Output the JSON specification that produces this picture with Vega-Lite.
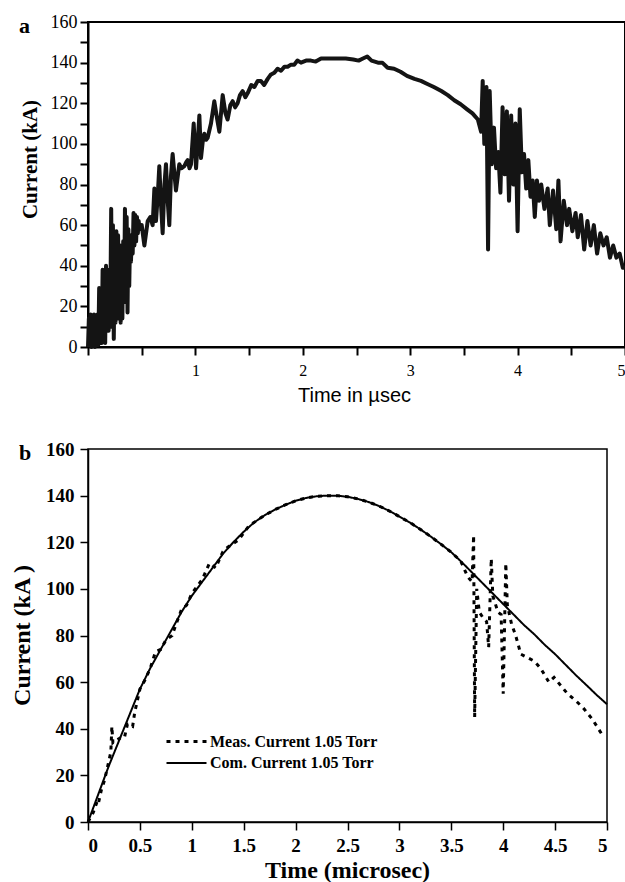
{
  "$schema": "https://vega.github.io/schema/vega-lite/v6.json",
  "padding": {"left": 9, "top": 12, "right": 0, "bottom": 0},
  "bounds": "flush",
  "spacing": 102,
  "config": {
    "font": "Liberation Serif",
    "view": {"stroke": "#000"},
    "axis": {"grid": false, "domainColor": "#000", "tickColor": "#000", "labelColor": "#000", "titleColor": "#000", "labelFont": "Liberation Serif", "titleFont": "Liberation Serif"},
    "title": {"font": "Liberation Serif", "fontWeight": "bold", "color": "#000"}
  },
  "datasets": {
    "measA": [
      {"t": 0.000, "i": 0}, {"t": 0.008, "i": 14}, {"t": 0.016, "i": 1}, {"t": 0.024, "i": 16}, {"t": 0.032, "i": 0},
      {"t": 0.040, "i": 15}, {"t": 0.048, "i": 2}, {"t": 0.056, "i": 16}, {"t": 0.064, "i": 0}, {"t": 0.072, "i": 15},
      {"t": 0.080, "i": 2}, {"t": 0.088, "i": 16}, {"t": 0.096, "i": 1}, {"t": 0.104, "i": 29}, {"t": 0.112, "i": 3},
      {"t": 0.120, "i": 28}, {"t": 0.128, "i": 2}, {"t": 0.136, "i": 38}, {"t": 0.144, "i": 4}, {"t": 0.152, "i": 37},
      {"t": 0.160, "i": 2}, {"t": 0.168, "i": 40}, {"t": 0.176, "i": 10}, {"t": 0.184, "i": 38}, {"t": 0.192, "i": 8},
      {"t": 0.200, "i": 35}, {"t": 0.208, "i": 20}, {"t": 0.216, "i": 68}, {"t": 0.224, "i": 10}, {"t": 0.232, "i": 60},
      {"t": 0.240, "i": 4}, {"t": 0.248, "i": 40}, {"t": 0.256, "i": 12}, {"t": 0.264, "i": 57}, {"t": 0.272, "i": 14},
      {"t": 0.280, "i": 55}, {"t": 0.288, "i": 20}, {"t": 0.296, "i": 50}, {"t": 0.304, "i": 12}, {"t": 0.312, "i": 50},
      {"t": 0.320, "i": 14}, {"t": 0.328, "i": 52}, {"t": 0.336, "i": 22}, {"t": 0.344, "i": 68}, {"t": 0.352, "i": 30},
      {"t": 0.360, "i": 64}, {"t": 0.368, "i": 17}, {"t": 0.376, "i": 58}, {"t": 0.384, "i": 30}, {"t": 0.392, "i": 55},
      {"t": 0.400, "i": 42}, {"t": 0.408, "i": 55}, {"t": 0.416, "i": 46}, {"t": 0.424, "i": 66}, {"t": 0.432, "i": 50},
      {"t": 0.440, "i": 65}, {"t": 0.448, "i": 52}, {"t": 0.456, "i": 64}, {"t": 0.464, "i": 56}, {"t": 0.472, "i": 62},
      {"t": 0.480, "i": 58}, {"t": 0.500, "i": 60}, {"t": 0.525, "i": 50}, {"t": 0.556, "i": 62}, {"t": 0.580, "i": 64},
      {"t": 0.602, "i": 60}, {"t": 0.618, "i": 78}, {"t": 0.633, "i": 62}, {"t": 0.650, "i": 75}, {"t": 0.664, "i": 89},
      {"t": 0.680, "i": 70}, {"t": 0.695, "i": 56}, {"t": 0.712, "i": 80}, {"t": 0.726, "i": 90}, {"t": 0.742, "i": 72},
      {"t": 0.757, "i": 60}, {"t": 0.772, "i": 84}, {"t": 0.788, "i": 95}, {"t": 0.805, "i": 85}, {"t": 0.819, "i": 77},
      {"t": 0.850, "i": 90}, {"t": 0.870, "i": 88}, {"t": 0.897, "i": 89}, {"t": 0.915, "i": 91}, {"t": 0.928, "i": 92},
      {"t": 0.945, "i": 88}, {"t": 0.959, "i": 90}, {"t": 0.984, "i": 110}, {"t": 1.006, "i": 88}, {"t": 1.037, "i": 114},
      {"t": 1.052, "i": 93}, {"t": 1.068, "i": 101}, {"t": 1.083, "i": 105}, {"t": 1.100, "i": 102}, {"t": 1.114, "i": 103},
      {"t": 1.145, "i": 110}, {"t": 1.176, "i": 121}, {"t": 1.200, "i": 113}, {"t": 1.223, "i": 106}, {"t": 1.254, "i": 124},
      {"t": 1.280, "i": 115}, {"t": 1.300, "i": 112}, {"t": 1.325, "i": 119}, {"t": 1.347, "i": 121}, {"t": 1.370, "i": 118},
      {"t": 1.393, "i": 120}, {"t": 1.415, "i": 124}, {"t": 1.440, "i": 126}, {"t": 1.465, "i": 123}, {"t": 1.487, "i": 125},
      {"t": 1.520, "i": 129}, {"t": 1.549, "i": 128}, {"t": 1.580, "i": 131}, {"t": 1.610, "i": 131}, {"t": 1.640, "i": 129},
      {"t": 1.673, "i": 132}, {"t": 1.700, "i": 134}, {"t": 1.735, "i": 135}, {"t": 1.765, "i": 137}, {"t": 1.797, "i": 136},
      {"t": 1.830, "i": 138}, {"t": 1.859, "i": 138}, {"t": 1.890, "i": 139}, {"t": 1.920, "i": 139}, {"t": 1.950, "i": 141},
      {"t": 1.983, "i": 140}, {"t": 2.030, "i": 141}, {"t": 2.076, "i": 141}, {"t": 2.120, "i": 140.5}, {"t": 2.170, "i": 142},
      {"t": 2.290, "i": 142}, {"t": 2.400, "i": 142}, {"t": 2.470, "i": 141.5}, {"t": 2.520, "i": 141}, {"t": 2.560, "i": 142},
      {"t": 2.600, "i": 143}, {"t": 2.640, "i": 141}, {"t": 2.700, "i": 140}, {"t": 2.740, "i": 140}, {"t": 2.790, "i": 137.5},
      {"t": 2.850, "i": 137}, {"t": 2.910, "i": 135.5}, {"t": 2.970, "i": 133.5}, {"t": 3.040, "i": 132}, {"t": 3.100, "i": 131},
      {"t": 3.160, "i": 129.5}, {"t": 3.220, "i": 128}, {"t": 3.290, "i": 126}, {"t": 3.350, "i": 124}, {"t": 3.410, "i": 121.5},
      {"t": 3.470, "i": 119.5}, {"t": 3.530, "i": 117}, {"t": 3.580, "i": 115}, {"t": 3.630, "i": 112}, {"t": 3.660, "i": 106},
      {"t": 3.675, "i": 131}, {"t": 3.690, "i": 100}, {"t": 3.710, "i": 128}, {"t": 3.725, "i": 48}, {"t": 3.740, "i": 126},
      {"t": 3.760, "i": 90}, {"t": 3.780, "i": 108}, {"t": 3.800, "i": 88}, {"t": 3.820, "i": 96}, {"t": 3.840, "i": 76},
      {"t": 3.860, "i": 118}, {"t": 3.880, "i": 85}, {"t": 3.900, "i": 116}, {"t": 3.920, "i": 72}, {"t": 3.940, "i": 114},
      {"t": 3.960, "i": 80}, {"t": 3.980, "i": 110}, {"t": 4.000, "i": 57}, {"t": 4.020, "i": 117}, {"t": 4.040, "i": 86},
      {"t": 4.060, "i": 95}, {"t": 4.080, "i": 78}, {"t": 4.100, "i": 92}, {"t": 4.120, "i": 74}, {"t": 4.140, "i": 82},
      {"t": 4.160, "i": 64}, {"t": 4.180, "i": 82}, {"t": 4.200, "i": 72}, {"t": 4.220, "i": 80}, {"t": 4.250, "i": 68},
      {"t": 4.280, "i": 78}, {"t": 4.300, "i": 60}, {"t": 4.330, "i": 77}, {"t": 4.360, "i": 58}, {"t": 4.380, "i": 82},
      {"t": 4.400, "i": 52}, {"t": 4.430, "i": 72}, {"t": 4.460, "i": 60}, {"t": 4.480, "i": 68}, {"t": 4.510, "i": 57},
      {"t": 4.540, "i": 66}, {"t": 4.560, "i": 54}, {"t": 4.590, "i": 65}, {"t": 4.620, "i": 48}, {"t": 4.650, "i": 62},
      {"t": 4.680, "i": 50}, {"t": 4.710, "i": 60}, {"t": 4.740, "i": 46}, {"t": 4.770, "i": 56}, {"t": 4.800, "i": 50},
      {"t": 4.830, "i": 54}, {"t": 4.860, "i": 44}, {"t": 4.890, "i": 50}, {"t": 4.920, "i": 44}, {"t": 4.950, "i": 46},
      {"t": 4.980, "i": 39}, {"t": 5.000, "i": 39}
    ],
    "seriesB": [
      {"s": "Meas. Current 1.05 Torr", "t": 0.00, "i": 0}, {"s": "Meas. Current 1.05 Torr", "t": 0.05, "i": 4},
      {"s": "Meas. Current 1.05 Torr", "t": 0.09, "i": 9}, {"s": "Meas. Current 1.05 Torr", "t": 0.10, "i": 8},
      {"s": "Meas. Current 1.05 Torr", "t": 0.13, "i": 14}, {"s": "Meas. Current 1.05 Torr", "t": 0.16, "i": 18},
      {"s": "Meas. Current 1.05 Torr", "t": 0.19, "i": 24}, {"s": "Meas. Current 1.05 Torr", "t": 0.22, "i": 30},
      {"s": "Meas. Current 1.05 Torr", "t": 0.23, "i": 41}, {"s": "Meas. Current 1.05 Torr", "t": 0.24, "i": 34},
      {"s": "Meas. Current 1.05 Torr", "t": 0.27, "i": 35}, {"s": "Meas. Current 1.05 Torr", "t": 0.31, "i": 36},
      {"s": "Meas. Current 1.05 Torr", "t": 0.35, "i": 36}, {"s": "Meas. Current 1.05 Torr", "t": 0.38, "i": 42},
      {"s": "Meas. Current 1.05 Torr", "t": 0.43, "i": 41}, {"s": "Meas. Current 1.05 Torr", "t": 0.45, "i": 47},
      {"s": "Meas. Current 1.05 Torr", "t": 0.50, "i": 57}, {"s": "Meas. Current 1.05 Torr", "t": 0.55, "i": 61},
      {"s": "Meas. Current 1.05 Torr", "t": 0.60, "i": 66}, {"s": "Meas. Current 1.05 Torr", "t": 0.65, "i": 73},
      {"s": "Meas. Current 1.05 Torr", "t": 0.70, "i": 74}, {"s": "Meas. Current 1.05 Torr", "t": 0.75, "i": 78},
      {"s": "Meas. Current 1.05 Torr", "t": 0.81, "i": 80}, {"s": "Meas. Current 1.05 Torr", "t": 0.85, "i": 85},
      {"s": "Meas. Current 1.05 Torr", "t": 0.90, "i": 91}, {"s": "Meas. Current 1.05 Torr", "t": 0.95, "i": 93},
      {"s": "Meas. Current 1.05 Torr", "t": 1.00, "i": 98}, {"s": "Meas. Current 1.05 Torr", "t": 1.05, "i": 101},
      {"s": "Meas. Current 1.05 Torr", "t": 1.10, "i": 104}, {"s": "Meas. Current 1.05 Torr", "t": 1.17, "i": 111},
      {"s": "Meas. Current 1.05 Torr", "t": 1.23, "i": 109}, {"s": "Meas. Current 1.05 Torr", "t": 1.30, "i": 116},
      {"s": "Meas. Current 1.05 Torr", "t": 1.35, "i": 118}, {"s": "Meas. Current 1.05 Torr", "t": 1.45, "i": 121},
      {"s": "Meas. Current 1.05 Torr", "t": 1.55, "i": 127}, {"s": "Meas. Current 1.05 Torr", "t": 1.70, "i": 131.5},
      {"s": "Meas. Current 1.05 Torr", "t": 1.80, "i": 134}, {"s": "Meas. Current 1.05 Torr", "t": 1.90, "i": 136},
      {"s": "Meas. Current 1.05 Torr", "t": 2.00, "i": 137.8}, {"s": "Meas. Current 1.05 Torr", "t": 2.10, "i": 139},
      {"s": "Meas. Current 1.05 Torr", "t": 2.20, "i": 139.7}, {"s": "Meas. Current 1.05 Torr", "t": 2.30, "i": 140},
      {"s": "Meas. Current 1.05 Torr", "t": 2.40, "i": 140}, {"s": "Meas. Current 1.05 Torr", "t": 2.50, "i": 139.5},
      {"s": "Meas. Current 1.05 Torr", "t": 2.60, "i": 138.6}, {"s": "Meas. Current 1.05 Torr", "t": 2.70, "i": 137.3},
      {"s": "Meas. Current 1.05 Torr", "t": 2.80, "i": 135.6}, {"s": "Meas. Current 1.05 Torr", "t": 2.90, "i": 133.5},
      {"s": "Meas. Current 1.05 Torr", "t": 3.00, "i": 131}, {"s": "Meas. Current 1.05 Torr", "t": 3.10, "i": 128.5},
      {"s": "Meas. Current 1.05 Torr", "t": 3.20, "i": 125.6}, {"s": "Meas. Current 1.05 Torr", "t": 3.30, "i": 122.5},
      {"s": "Meas. Current 1.05 Torr", "t": 3.40, "i": 119.2}, {"s": "Meas. Current 1.05 Torr", "t": 3.50, "i": 115.7},
      {"s": "Meas. Current 1.05 Torr", "t": 3.59, "i": 112}, {"s": "Meas. Current 1.05 Torr", "t": 3.66, "i": 105},
      {"s": "Meas. Current 1.05 Torr", "t": 3.70, "i": 103}, {"s": "Meas. Current 1.05 Torr", "t": 3.715, "i": 123},
      {"s": "Meas. Current 1.05 Torr", "t": 3.725, "i": 45}, {"s": "Meas. Current 1.05 Torr", "t": 3.745, "i": 100},
      {"s": "Meas. Current 1.05 Torr", "t": 3.77, "i": 90}, {"s": "Meas. Current 1.05 Torr", "t": 3.80, "i": 88},
      {"s": "Meas. Current 1.05 Torr", "t": 3.84, "i": 86}, {"s": "Meas. Current 1.05 Torr", "t": 3.86, "i": 75},
      {"s": "Meas. Current 1.05 Torr", "t": 3.885, "i": 113}, {"s": "Meas. Current 1.05 Torr", "t": 3.90, "i": 97},
      {"s": "Meas. Current 1.05 Torr", "t": 3.95, "i": 90}, {"s": "Meas. Current 1.05 Torr", "t": 3.98, "i": 89},
      {"s": "Meas. Current 1.05 Torr", "t": 4.00, "i": 55}, {"s": "Meas. Current 1.05 Torr", "t": 4.025, "i": 111},
      {"s": "Meas. Current 1.05 Torr", "t": 4.04, "i": 93}, {"s": "Meas. Current 1.05 Torr", "t": 4.08, "i": 85},
      {"s": "Meas. Current 1.05 Torr", "t": 4.12, "i": 80}, {"s": "Meas. Current 1.05 Torr", "t": 4.17, "i": 72},
      {"s": "Meas. Current 1.05 Torr", "t": 4.30, "i": 69}, {"s": "Meas. Current 1.05 Torr", "t": 4.36, "i": 66},
      {"s": "Meas. Current 1.05 Torr", "t": 4.44, "i": 60}, {"s": "Meas. Current 1.05 Torr", "t": 4.49, "i": 62},
      {"s": "Meas. Current 1.05 Torr", "t": 4.62, "i": 55}, {"s": "Meas. Current 1.05 Torr", "t": 4.70, "i": 52},
      {"s": "Meas. Current 1.05 Torr", "t": 4.77, "i": 49}, {"s": "Meas. Current 1.05 Torr", "t": 4.86, "i": 44},
      {"s": "Meas. Current 1.05 Torr", "t": 4.96, "i": 37},
      {"s": "Com. Current 1.05 Torr", "t": 0.0, "i": 0}, {"s": "Com. Current 1.05 Torr", "t": 0.1, "i": 12},
      {"s": "Com. Current 1.05 Torr", "t": 0.2, "i": 24}, {"s": "Com. Current 1.05 Torr", "t": 0.3, "i": 35},
      {"s": "Com. Current 1.05 Torr", "t": 0.4, "i": 46}, {"s": "Com. Current 1.05 Torr", "t": 0.5, "i": 57},
      {"s": "Com. Current 1.05 Torr", "t": 0.6, "i": 66}, {"s": "Com. Current 1.05 Torr", "t": 0.7, "i": 74},
      {"s": "Com. Current 1.05 Torr", "t": 0.8, "i": 82}, {"s": "Com. Current 1.05 Torr", "t": 0.9, "i": 90},
      {"s": "Com. Current 1.05 Torr", "t": 1.0, "i": 97}, {"s": "Com. Current 1.05 Torr", "t": 1.1, "i": 103},
      {"s": "Com. Current 1.05 Torr", "t": 1.2, "i": 109}, {"s": "Com. Current 1.05 Torr", "t": 1.3, "i": 115},
      {"s": "Com. Current 1.05 Torr", "t": 1.4, "i": 120}, {"s": "Com. Current 1.05 Torr", "t": 1.5, "i": 124.5},
      {"s": "Com. Current 1.05 Torr", "t": 1.6, "i": 128.5}, {"s": "Com. Current 1.05 Torr", "t": 1.7, "i": 131.5},
      {"s": "Com. Current 1.05 Torr", "t": 1.8, "i": 134}, {"s": "Com. Current 1.05 Torr", "t": 1.9, "i": 136},
      {"s": "Com. Current 1.05 Torr", "t": 2.0, "i": 137.8}, {"s": "Com. Current 1.05 Torr", "t": 2.1, "i": 139},
      {"s": "Com. Current 1.05 Torr", "t": 2.2, "i": 139.7}, {"s": "Com. Current 1.05 Torr", "t": 2.3, "i": 140},
      {"s": "Com. Current 1.05 Torr", "t": 2.4, "i": 140}, {"s": "Com. Current 1.05 Torr", "t": 2.5, "i": 139.5},
      {"s": "Com. Current 1.05 Torr", "t": 2.6, "i": 138.6}, {"s": "Com. Current 1.05 Torr", "t": 2.7, "i": 137.3},
      {"s": "Com. Current 1.05 Torr", "t": 2.8, "i": 135.6}, {"s": "Com. Current 1.05 Torr", "t": 2.9, "i": 133.5},
      {"s": "Com. Current 1.05 Torr", "t": 3.0, "i": 131}, {"s": "Com. Current 1.05 Torr", "t": 3.1, "i": 128.5},
      {"s": "Com. Current 1.05 Torr", "t": 3.2, "i": 125.6}, {"s": "Com. Current 1.05 Torr", "t": 3.3, "i": 122.5},
      {"s": "Com. Current 1.05 Torr", "t": 3.4, "i": 119.2}, {"s": "Com. Current 1.05 Torr", "t": 3.5, "i": 115.7},
      {"s": "Com. Current 1.05 Torr", "t": 3.6, "i": 111.5}, {"s": "Com. Current 1.05 Torr", "t": 3.7, "i": 107},
      {"s": "Com. Current 1.05 Torr", "t": 3.8, "i": 102.5}, {"s": "Com. Current 1.05 Torr", "t": 3.9, "i": 98},
      {"s": "Com. Current 1.05 Torr", "t": 4.0, "i": 93.5}, {"s": "Com. Current 1.05 Torr", "t": 4.1, "i": 89},
      {"s": "Com. Current 1.05 Torr", "t": 4.2, "i": 84.5}, {"s": "Com. Current 1.05 Torr", "t": 4.3, "i": 80.5},
      {"s": "Com. Current 1.05 Torr", "t": 4.4, "i": 76}, {"s": "Com. Current 1.05 Torr", "t": 4.5, "i": 72},
      {"s": "Com. Current 1.05 Torr", "t": 4.6, "i": 67.5}, {"s": "Com. Current 1.05 Torr", "t": 4.7, "i": 63},
      {"s": "Com. Current 1.05 Torr", "t": 4.8, "i": 58.8}, {"s": "Com. Current 1.05 Torr", "t": 4.9, "i": 54.5},
      {"s": "Com. Current 1.05 Torr", "t": 5.0, "i": 50.5}
    ]
  },
  "vconcat": [
    {
      "width": 537,
      "height": 325,
      "title": {"text": "a", "anchor": "start", "frame": "group", "orient": "top", "offset": -9, "baseline": "alphabetic", "dx": -69, "dy": 33, "fontSize": 22},
      "view": {"strokeWidth": 2},
      "data": {"name": "measA"},
      "mark": {"type": "line", "color": "#141414", "strokeWidth": 4, "strokeJoin": "round"},
      "encoding": {
        "x": {"field": "t", "type": "quantitative", "scale": {"domain": [0, 5], "nice": false},
          "axis": {"values": [0, 0.5, 1, 1.5, 2, 2.5, 3, 3.5, 4, 4.5, 5], "format": "~g", "labelExpr": "datum.value > 0 && datum.value % 1 === 0 ? datum.label : ''",
            "title": "Time in µsec", "titleFont": "Liberation Sans", "titleFontSize": 20, "titleFontWeight": "normal",
            "titleX": 266, "titleY": 54, "titleBaseline": "alphabetic", "labelFontSize": 16, "labelFlush": true,
            "tickSize": 8, "tickWidth": 2, "domainWidth": 2, "labelPadding": 7}},
        "y": {"field": "i", "type": "quantitative", "scale": {"domain": [0, 160], "nice": false},
          "axis": {"values": [0, 10, 20, 30, 40, 50, 60, 70, 80, 90, 100, 110, 120, 130, 140, 150, 160],
            "labelExpr": "datum.value % 20 === 0 ? datum.label : ''",
            "title": "Current (kA)", "titleFontSize": 21, "titleFontWeight": "bold", "titleX": -58, "titleY": 137,
            "titleBaseline": "middle", "titleAngle": -90, "labelFontSize": 18, "tickSize": 8, "tickWidth": 2, "domainWidth": 2, "labelPadding": 3}}
      }
    },
    {
      "width": 519,
      "height": 373,
      "title": {"text": "b", "anchor": "start", "frame": "group", "orient": "top", "offset": -10, "baseline": "alphabetic", "dx": -69, "dy": 32, "fontSize": 22},
      "view": {"strokeWidth": 1.5},
      "data": {"name": "seriesB"},
      "mark": {"type": "line", "color": "#000"},
      "encoding": {
        "x": {"field": "t", "type": "quantitative", "scale": {"domain": [0, 5], "nice": false},
          "axis": {"values": [0, 0.5, 1, 1.5, 2, 2.5, 3, 3.5, 4, 4.5, 5], "format": "~g",
            "title": "Time (microsec)", "titleFontSize": 24, "titleFontWeight": "bold", "titleX": 259, "titleY": 55, "titleBaseline": "alphabetic",
            "labelFontSize": 19, "labelFontWeight": "bold", "tickSize": 8, "tickWidth": 1.5, "domainWidth": 1.5, "labelPadding": 6}},
        "y": {"field": "i", "type": "quantitative", "scale": {"domain": [0, 160], "nice": false},
          "axis": {"values": [0, 20, 40, 60, 80, 100, 120, 140, 160],
            "title": "Current (kA )", "titleFontSize": 24, "titleFontWeight": "bold", "titleX": -66, "titleY": 186,
            "titleBaseline": "middle", "titleAngle": -90, "labelFontSize": 19, "labelFontWeight": "bold", "tickSize": 8, "tickWidth": 1.5, "domainWidth": 1.5, "labelPadding": 6}},
        "detail": {"field": "s"},
        "strokeDash": {"field": "s", "type": "nominal",
          "scale": {"domain": ["Meas. Current 1.05 Torr", "Com. Current 1.05 Torr"], "range": [[4, 5], [1, 0]]},
          "legend": {"title": null, "orient": "none", "legendX": 87, "legendY": 708, "symbolType": "M-2,0H2", "symbolSize": 400,
            "symbolStrokeWidth": 2.5, "symbolStrokeColor": "#000", "labelFont": "Liberation Serif", "labelFontSize": 16, "labelFontWeight": "bold",
            "labelColor": "#000", "labelOffset": 12, "labelLimit": 400, "rowPadding": 2, "padding": 0}},
        "strokeWidth": {"field": "s", "type": "nominal",
          "scale": {"domain": ["Meas. Current 1.05 Torr", "Com. Current 1.05 Torr"], "range": [3, 2]}, "legend": null}
      }
    }
  ]
}
